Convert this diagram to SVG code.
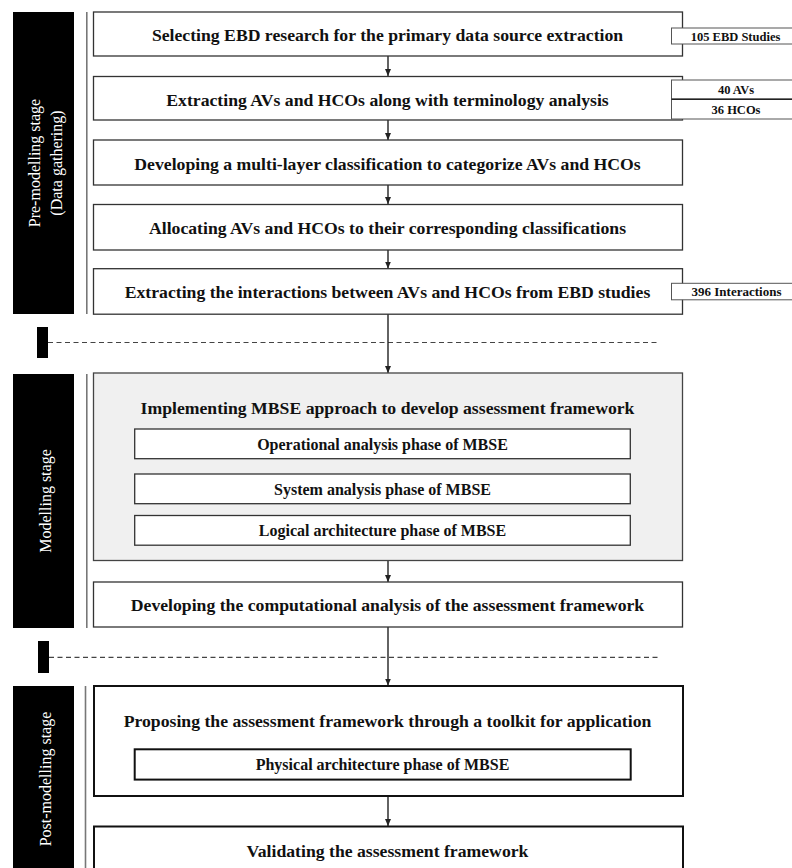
<svg xmlns="http://www.w3.org/2000/svg" width="792" height="868" viewBox="0 0 792 868">
<style>
.box{fill:#fff;stroke:#333;stroke-width:1.3}
.boxk{fill:#fff;stroke:#111;stroke-width:2}
.gray{fill:#f0f0f0;stroke:#444;stroke-width:1.3}
.lbl{fill:#fff;stroke:#555;stroke-width:1}
.t{font-family:"Liberation Serif","Times New Roman",serif;font-weight:bold;font-size:17.7px;fill:#111;text-anchor:middle}
.ts{font-family:"Liberation Serif","Times New Roman",serif;font-weight:bold;font-size:16px;fill:#111;text-anchor:middle}
.tl{font-family:"Liberation Serif","Times New Roman",serif;font-weight:bold;font-size:12.5px;fill:#111;text-anchor:middle}
.stage{fill:#000}
.st{font-family:"Liberation Serif","Times New Roman",serif;font-size:16px;fill:#fff;text-anchor:middle}
.vl{stroke:#777;stroke-width:1.6}
.dash{stroke:#444;stroke-width:1.2;stroke-dasharray:5 3.5}
.arr{stroke:#222;stroke-width:1.4;fill:none}
</style>
<defs>
<marker id="ah" markerWidth="8" markerHeight="8" refX="7" refY="4" orient="auto" markerUnits="userSpaceOnUse">
<path d="M0,1 L7,4 L0,7 Z" fill="#222"/>
</marker>
</defs>

<g id="stage-pre">
<rect class="stage" x="13" y="12" width="61" height="302"/>
<line class="vl" x1="86.8" y1="12" x2="86.8" y2="314"/>
<text class="st" transform="translate(40,163) rotate(-90)">Pre-modelling stage</text>
<text class="st" transform="translate(62,163) rotate(-90)">(Data gathering)</text>
</g>
<g id="stage-model">
<rect class="stage" x="13" y="374" width="61" height="254"/>
<line class="vl" x1="86.8" y1="374" x2="86.8" y2="628"/>
<text class="st" transform="translate(51,501) rotate(-90)">Modelling stage</text>
</g>
<g id="stage-post">
<rect class="stage" x="13" y="686" width="61" height="190"/>
<line class="vl" x1="85.5" y1="686" x2="85.5" y2="868"/>
<text class="st" transform="translate(51,779) rotate(-90)">Post-modelling stage</text>
</g>

<g id="separators">
<rect class="stage" x="37" y="327" width="11" height="31"/>
<line class="dash" x1="48" y1="342.5" x2="660" y2="342.5"/>
<rect class="stage" x="38" y="641" width="11" height="32"/>
<line class="dash" x1="49" y1="657.3" x2="658" y2="657.3"/>
</g>

<g id="connectors">
<line class="arr" x1="388" y1="56" x2="388" y2="76" marker-end="url(#ah)"/>
<line class="arr" x1="388" y1="120" x2="388" y2="140" marker-end="url(#ah)"/>
<line class="arr" x1="388" y1="185" x2="388" y2="204" marker-end="url(#ah)"/>
<line class="arr" x1="388" y1="250" x2="388" y2="268.5" marker-end="url(#ah)"/>
<line class="arr" x1="388" y1="314" x2="388" y2="373" marker-end="url(#ah)"/>
<line class="arr" x1="388" y1="561" x2="388" y2="582" marker-end="url(#ah)"/>
<line class="arr" x1="388" y1="627" x2="388" y2="685.5" marker-end="url(#ah)"/>
<line class="arr" x1="388" y1="796" x2="388" y2="826" marker-end="url(#ah)"/>
</g>

<g id="n1">
<rect class="box" x="93.5" y="12" width="589" height="44"/>
<text class="t" x="387.5" y="41">Selecting EBD research for the primary data source extraction</text>
</g>
<g id="n1-label">
<rect class="lbl" x="671.5" y="28" width="125" height="16"/>
<text class="tl" x="735.5" y="40.5">105 EBD Studies</text>
</g>

<g id="n2">
<rect class="box" x="93.5" y="76.5" width="589" height="43.5"/>
<text class="t" x="387.5" y="105.5">Extracting AVs and HCOs along with terminology analysis</text>
</g>
<g id="n2-label">
<rect class="lbl" x="671.5" y="80" width="125" height="19.3"/>
<rect class="lbl" x="671.5" y="99.3" width="125" height="19.7"/>
<line x1="671.5" y1="99.3" x2="792" y2="99.3" stroke="#222" stroke-width="1.6"/>
<text class="tl" x="736" y="94">40 AVs</text>
<text class="tl" x="736" y="114">36 HCOs</text>
</g>

<g id="n3">
<rect class="box" x="93.5" y="140" width="589" height="45"/>
<text class="t" x="387.5" y="170">Developing a multi-layer classification to categorize AVs and HCOs</text>
</g>

<g id="n4">
<rect class="box" x="93.5" y="204.5" width="589" height="45.5"/>
<text class="t" x="387.5" y="234">Allocating AVs and HCOs to their corresponding classifications</text>
</g>

<g id="n5">
<rect class="box" x="93.5" y="268.7" width="589" height="45.5"/>
<text class="t" x="387.5" y="297.5">Extracting the interactions between AVs and HCOs from EBD studies</text>
</g>
<g id="n5-label">
<rect class="lbl" x="671.5" y="283.3" width="125" height="16.5"/>
<text class="tl" x="736.5" y="296" style="font-size:13px">396 Interactions</text>
</g>

<g id="n6">
<rect class="gray" x="93.5" y="373" width="589" height="187.5"/>
<text class="t" x="387.5" y="414.3">Implementing MBSE approach to develop assessment framework</text>
</g>
<g id="n6a">
<rect class="box" x="134.7" y="429" width="495.6" height="29.7"/>
<text class="ts" x="382.5" y="450">Operational analysis phase of MBSE</text>
</g>
<g id="n6b">
<rect class="box" x="134.7" y="474" width="495.6" height="29.7"/>
<text class="ts" x="382.5" y="495">System analysis phase of MBSE</text>
</g>
<g id="n6c">
<rect class="box" x="134.7" y="515.5" width="495.6" height="29.7"/>
<text class="ts" x="382.5" y="536">Logical architecture phase of MBSE</text>
</g>

<g id="n7">
<rect class="box" x="93.5" y="582" width="589" height="45"/>
<text class="t" x="387.5" y="610.7">Developing the computational analysis of the assessment framework</text>
</g>

<g id="n8">
<rect class="boxk" x="94" y="686" width="589" height="110"/>
<text class="t" x="387.5" y="727.3">Proposing the assessment framework through a toolkit for application</text>
</g>
<g id="n8a">
<rect class="boxk" x="134.7" y="749.3" width="496" height="30.3"/>
<text class="ts" x="382.5" y="770">Physical architecture phase of MBSE</text>
</g>

<g id="n9">
<rect class="boxk" x="94" y="826.5" width="589" height="60"/>
<text class="t" x="387.5" y="856.7">Validating the assessment framework</text>
</g>
</svg>
